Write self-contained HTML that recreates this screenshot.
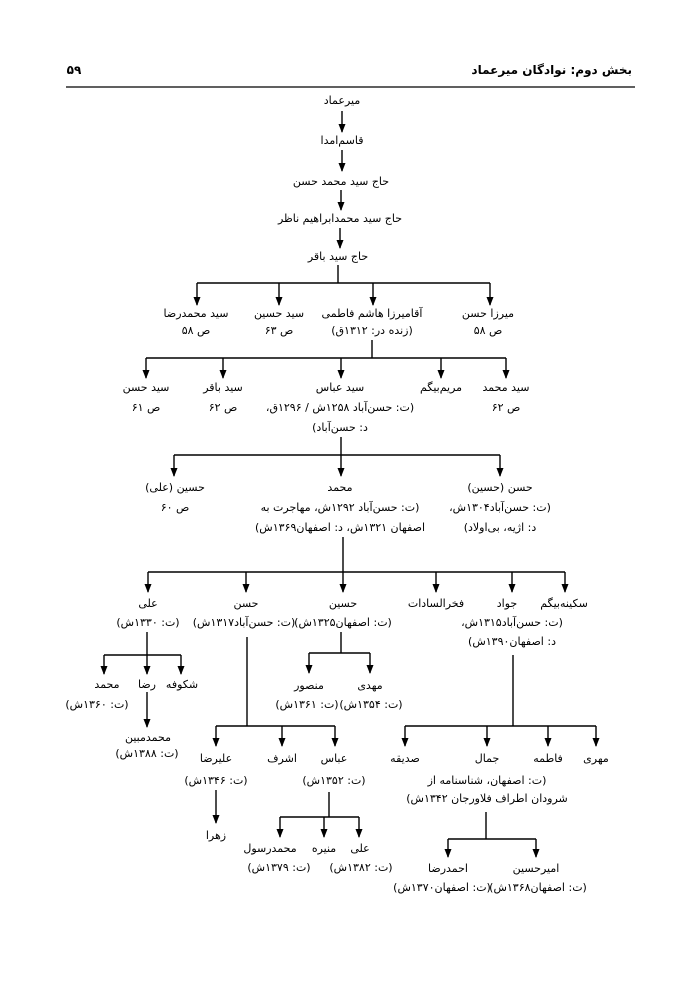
<!DOCTYPE html>
<html><head><meta charset="utf-8"><style>
html,body{margin:0;padding:0;background:#fff;}
svg{display:block;}
text{font-family:"DejaVu Sans",sans-serif;font-size:11px;fill:#000;text-anchor:middle;}
.h{font-weight:bold;font-size:12px;}
</style></head><body>
<svg width="700" height="989" viewBox="0 0 700 989" xmlns="http://www.w3.org/2000/svg">
<defs><marker id="a" markerWidth="9" markerHeight="7" refX="8" refY="3.5" orient="auto" markerUnits="userSpaceOnUse" viewBox="0 0 9 7"><path d="M0,0 L9,3.5 L0,7 z" fill="#000"/></marker></defs>
<g stroke="#000" stroke-width="1.4" fill="none">
<line x1="66" y1="87" x2="635" y2="87" stroke-width="1.3"/>
<line x1="342" y1="111" x2="342" y2="132" marker-end="url(#a)"/>
<line x1="342" y1="150" x2="342" y2="171" marker-end="url(#a)"/>
<line x1="341" y1="190" x2="341" y2="210" marker-end="url(#a)"/>
<line x1="340" y1="228" x2="340" y2="248" marker-end="url(#a)"/>
<line x1="338" y1="265" x2="338" y2="283"/>
<line x1="197" y1="283" x2="490" y2="283"/>
<line x1="197" y1="283" x2="197" y2="305" marker-end="url(#a)"/>
<line x1="279" y1="283" x2="279" y2="305" marker-end="url(#a)"/>
<line x1="373" y1="283" x2="373" y2="305" marker-end="url(#a)"/>
<line x1="490" y1="283" x2="490" y2="305" marker-end="url(#a)"/>
<line x1="372" y1="340" x2="372" y2="358"/>
<line x1="146" y1="358" x2="506" y2="358"/>
<line x1="146" y1="358" x2="146" y2="378" marker-end="url(#a)"/>
<line x1="223" y1="358" x2="223" y2="378" marker-end="url(#a)"/>
<line x1="341" y1="358" x2="341" y2="378" marker-end="url(#a)"/>
<line x1="441" y1="358" x2="441" y2="378" marker-end="url(#a)"/>
<line x1="506" y1="358" x2="506" y2="378" marker-end="url(#a)"/>
<line x1="341" y1="437" x2="341" y2="455"/>
<line x1="174" y1="455" x2="500" y2="455"/>
<line x1="174" y1="455" x2="174" y2="476" marker-end="url(#a)"/>
<line x1="341" y1="455" x2="341" y2="476" marker-end="url(#a)"/>
<line x1="500" y1="455" x2="500" y2="476" marker-end="url(#a)"/>
<line x1="343" y1="537" x2="343" y2="572"/>
<line x1="148" y1="572" x2="565" y2="572"/>
<line x1="148" y1="572" x2="148" y2="592" marker-end="url(#a)"/>
<line x1="246" y1="572" x2="246" y2="592" marker-end="url(#a)"/>
<line x1="343" y1="572" x2="343" y2="592" marker-end="url(#a)"/>
<line x1="436" y1="572" x2="436" y2="592" marker-end="url(#a)"/>
<line x1="512" y1="572" x2="512" y2="592" marker-end="url(#a)"/>
<line x1="565" y1="572" x2="565" y2="592" marker-end="url(#a)"/>
<line x1="147" y1="632" x2="147" y2="655"/>
<line x1="104" y1="655" x2="181" y2="655"/>
<line x1="104" y1="655" x2="104" y2="674" marker-end="url(#a)"/>
<line x1="147" y1="655" x2="147" y2="674" marker-end="url(#a)"/>
<line x1="181" y1="655" x2="181" y2="674" marker-end="url(#a)"/>
<line x1="147" y1="692" x2="147" y2="727" marker-end="url(#a)"/>
<line x1="247" y1="637" x2="247" y2="726"/>
<line x1="216" y1="726" x2="335" y2="726"/>
<line x1="216" y1="726" x2="216" y2="746" marker-end="url(#a)"/>
<line x1="282" y1="726" x2="282" y2="746" marker-end="url(#a)"/>
<line x1="335" y1="726" x2="335" y2="746" marker-end="url(#a)"/>
<line x1="341" y1="632" x2="341" y2="653"/>
<line x1="309" y1="653" x2="370" y2="653"/>
<line x1="309" y1="653" x2="309" y2="673" marker-end="url(#a)"/>
<line x1="370" y1="653" x2="370" y2="673" marker-end="url(#a)"/>
<line x1="513" y1="655" x2="513" y2="726"/>
<line x1="405" y1="726" x2="596" y2="726"/>
<line x1="405" y1="726" x2="405" y2="746" marker-end="url(#a)"/>
<line x1="487" y1="726" x2="487" y2="746" marker-end="url(#a)"/>
<line x1="548" y1="726" x2="548" y2="746" marker-end="url(#a)"/>
<line x1="596" y1="726" x2="596" y2="746" marker-end="url(#a)"/>
<line x1="216" y1="790" x2="216" y2="823" marker-end="url(#a)"/>
<line x1="329" y1="792" x2="329" y2="817"/>
<line x1="280" y1="817" x2="359" y2="817"/>
<line x1="280" y1="817" x2="280" y2="837" marker-end="url(#a)"/>
<line x1="324" y1="817" x2="324" y2="837" marker-end="url(#a)"/>
<line x1="359" y1="817" x2="359" y2="837" marker-end="url(#a)"/>
<line x1="486" y1="812" x2="486" y2="839"/>
<line x1="448" y1="839" x2="536" y2="839"/>
<line x1="448" y1="839" x2="448" y2="857" marker-end="url(#a)"/>
<line x1="536" y1="839" x2="536" y2="857" marker-end="url(#a)"/>
</g>
<g direction="rtl">
<text class="h" x="632" y="74" style="text-anchor:start">بخش دوم: نوادگان میرعماد</text>
<text class="h" x="74" y="74">۵۹</text>

<text x="342" y="104">میرعماد</text>
<text x="342" y="144">قاسم‌امدا</text>
<text x="341" y="185">حاج سید محمد حسن</text>
<text x="340" y="222">حاج سید محمدابراهیم ناظر</text>
<text x="338" y="260">حاج سید باقر</text>

<text x="196" y="317">سید محمدرضا</text><text x="196" y="334">ص ۵۸</text>
<text x="279" y="317">سید حسین</text><text x="279" y="334">ص ۶۳</text>
<text x="372" y="317">آقامیرزا هاشم فاطمی</text><text x="372" y="334">(زنده در: ۱۳۱۲ق)</text>
<text x="488" y="317">میرزا حسن</text><text x="488" y="334">ص ۵۸</text>

<text x="146" y="391">سید حسن</text><text x="146" y="411">ص ۶۱</text>
<text x="223" y="391">سید باقر</text><text x="223" y="411">ص ۶۲</text>
<text x="340" y="391">سید عباس</text><text x="340" y="411">(ت: حسن‌آباد ۱۲۵۸ش / ۱۲۹۶ق،</text><text x="340" y="431">د: حسن‌آباد)</text>
<text x="441" y="391">مریم‌بیگم</text>
<text x="506" y="391">سید محمد</text><text x="506" y="411">ص ۶۲</text>

<text x="175" y="491">حسین (علی)</text><text x="175" y="511">ص ۶۰</text>
<text x="340" y="491">محمد</text><text x="340" y="511">(ت: حسن‌آباد ۱۲۹۲ش، مهاجرت به</text><text x="340" y="531">اصفهان ۱۳۲۱ش،  د: اصفهان۱۳۶۹ش)</text>
<text x="500" y="491">حسن (حسین)</text><text x="500" y="511">(ت: حسن‌آباد۱۳۰۴ش،</text><text x="500" y="531">د: اژیه، بی‌اولاد)</text>

<text x="148" y="607">علی</text><text x="148" y="626">(ت: ۱۳۳۰ش)</text>
<text x="246" y="607">حسن</text><text x="244" y="626">(ت: حسن‌آباد۱۳۱۷ش)</text>
<text x="343" y="607">حسین</text><text x="343" y="626">(ت: اصفهان۱۳۲۵ش)</text>
<text x="436" y="607">فخرالسادات</text>
<text x="507" y="607">جواد</text><text x="512" y="626">(ت: حسن‌آباد۱۳۱۵ش،</text><text x="512" y="645">د: اصفهان۱۳۹۰ش)</text>
<text x="564" y="607">سکینه‌بیگم</text>

<text x="107" y="688">محمد</text><text x="97" y="708">(ت: ۱۳۶۰ش)</text>
<text x="147" y="688">رضا</text>
<text x="182" y="688">شکوفه</text>
<text x="148" y="741">محمدمبین</text><text x="147" y="757">(ت: ۱۳۸۸ش)</text>

<text x="309" y="689">منصور</text><text x="307" y="708">(ت: ۱۳۶۱ش)</text>
<text x="370" y="689">مهدی</text><text x="371" y="708">(ت: ۱۳۵۴ش)</text>

<text x="216" y="762">علیرضا</text><text x="216" y="784">(ت: ۱۳۴۶ش)</text>
<text x="282" y="762">اشرف</text>
<text x="334" y="762">عباس</text><text x="334" y="784">(ت: ۱۳۵۲ش)</text>
<text x="405" y="762">صدیقه</text>
<text x="487" y="762">جمال</text><text x="487" y="784">(ت: اصفهان، شناسنامه از</text><text x="487" y="802">شرودان اطراف فلاورجان ۱۳۴۲ش)</text>
<text x="548" y="762">فاطمه</text>
<text x="596" y="762">مهری</text>

<text x="216" y="839">زهرا</text>
<text x="270" y="852">محمدرسول</text><text x="279" y="871">(ت: ۱۳۷۹ش)</text>
<text x="324" y="852">منیره</text>
<text x="360" y="852">علی</text><text x="361" y="871">(ت: ۱۳۸۲ش)</text>

<text x="448" y="872">احمدرضا</text><text x="442" y="891">(ت: اصفهان۱۳۷۰ش)</text>
<text x="536" y="872">امیرحسین</text><text x="538" y="891">(ت: اصفهان۱۳۶۸ش)</text>
</g>
</svg>
</body></html>
